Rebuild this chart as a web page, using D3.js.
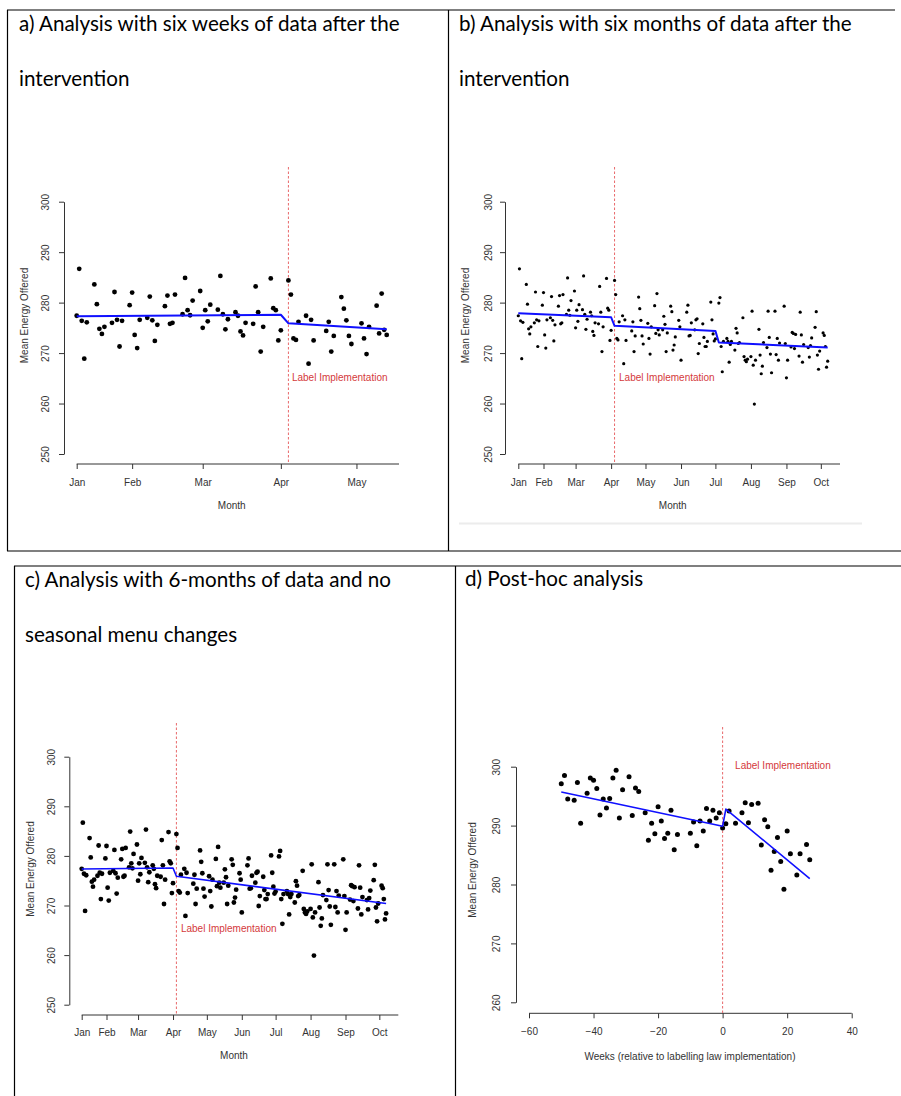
<!DOCTYPE html>
<html>
<head>
<meta charset="utf-8">
<script src="https://cdn.jsdelivr.net/npm/d3@7"></script>
<style>
  body { margin: 0; background: #fff; }
  svg { display: block; }
</style>
</head>
<body>
<svg id="figure"></svg>
<script>
// Daily (weekday) mean energy offered, Jan - Oct 2022
const dayDates = [
  "2022-01-10","2022-01-11","2022-01-12","2022-01-13","2022-01-14",
  "2022-01-17","2022-01-18","2022-01-19","2022-01-20","2022-01-21",
  "2022-01-24","2022-01-25","2022-01-26","2022-01-27","2022-01-28",
  "2022-01-31","2022-02-01","2022-02-02","2022-02-03","2022-02-04",
  "2022-02-07","2022-02-08","2022-02-09","2022-02-10","2022-02-11",
  "2022-02-14","2022-02-15","2022-02-16","2022-02-17","2022-02-18",
  "2022-02-21","2022-02-22","2022-02-23","2022-02-24","2022-02-25",
  "2022-02-28","2022-03-01","2022-03-02","2022-03-03","2022-03-04",
  "2022-03-07","2022-03-08","2022-03-09","2022-03-10","2022-03-11",
  "2022-03-14","2022-03-15","2022-03-16","2022-03-17","2022-03-18",
  "2022-03-21","2022-03-22","2022-03-23","2022-03-24","2022-03-25",
  "2022-03-28","2022-03-29","2022-03-30","2022-03-31","2022-04-01",
  "2022-04-04","2022-04-05","2022-04-06","2022-04-07","2022-04-08",
  "2022-04-11","2022-04-12","2022-04-13","2022-04-14",
  "2022-04-19","2022-04-20","2022-04-21","2022-04-22",
  "2022-04-25","2022-04-26","2022-04-27","2022-04-28","2022-04-29",
  "2022-05-03","2022-05-04","2022-05-05","2022-05-06",
  "2022-05-09","2022-05-10","2022-05-11","2022-05-12","2022-05-13",
  "2022-05-16","2022-05-17","2022-05-18","2022-05-19","2022-05-20",
  "2022-05-23","2022-05-24","2022-05-25","2022-05-26","2022-05-27",
  "2022-05-30","2022-05-31","2022-06-01",
  "2022-06-06","2022-06-07","2022-06-08","2022-06-09","2022-06-10",
  "2022-06-13","2022-06-14","2022-06-15","2022-06-16","2022-06-17",
  "2022-06-20","2022-06-21","2022-06-22","2022-06-23","2022-06-24",
  "2022-06-27","2022-06-28","2022-06-29","2022-06-30","2022-07-01",
  "2022-07-04","2022-07-05","2022-07-06","2022-07-07","2022-07-08",
  "2022-07-11","2022-07-12","2022-07-13","2022-07-14","2022-07-15",
  "2022-07-18","2022-07-19","2022-07-20","2022-07-21","2022-07-22",
  "2022-07-25","2022-07-26","2022-07-27","2022-07-28","2022-07-29",
  "2022-08-01","2022-08-02","2022-08-03","2022-08-04","2022-08-05",
  "2022-08-08","2022-08-09","2022-08-10","2022-08-11","2022-08-12",
  "2022-08-15","2022-08-16","2022-08-17","2022-08-18","2022-08-19",
  "2022-08-22","2022-08-23","2022-08-24","2022-08-25","2022-08-26",
  "2022-08-30","2022-08-31","2022-09-01","2022-09-02",
  "2022-09-05","2022-09-06","2022-09-07","2022-09-08","2022-09-09",
  "2022-09-12","2022-09-13","2022-09-14","2022-09-15","2022-09-16",
  "2022-09-20","2022-09-21","2022-09-22","2022-09-23",
  "2022-09-26","2022-09-27","2022-09-28","2022-09-29","2022-09-30",
  "2022-10-03","2022-10-04","2022-10-05","2022-10-06","2022-10-07"
];
const dayEnergy = [
  277.4, 286.7, 276.4, 268.9, 276.1,
  283.6, 279.7, 274.8, 273.8, 275.2,
  276.0, 282.1, 276.6, 271.3, 276.4,
  279.5, 282.0, 273.6, 271.0, 276.6,
  277.0, 281.2, 276.5, 272.4, 275.6,
  279.3, 281.4, 275.8, 276.0, 281.6,
  277.7, 284.9, 278.5, 277.5, 280.4,
  282.3, 275.0, 278.5, 276.3, 279.6,
  278.6, 285.3, 277.7, 274.7, 276.7,
  278.1, 277.4, 274.3, 273.5, 276.0,
  275.8, 283.2, 278.1, 270.3, 275.2,
  284.8, 278.9, 278.5, 272.5, 274.5,
  284.4, 281.6, 272.9, 272.6, 276.2,
  277.4, 267.9, 276.6, 272.5,
  274.4, 276.2, 270.3, 273.4,
  281.1, 278.8, 276.5, 273.4, 271.8,
  275.9, 272.9, 269.8, 275.2,
  279.4, 273.9, 281.8, 274.6, 273.6,
  274.6, 277.3, 275.7, 270.3, 274.0,
  279.3, 278.2, 270.6, 271.6, 273.2,
  276.5, 275.2, 268.6,
  278.1, 279.5, 273.4, 273.5, 276.0,
  274.6, 276.6, 276.8, 269.9, 271.9,
  275.8, 273.1, 271.3, 271.3, 272.3,
  280.1, 276.6, 273.8, 272.4, 272.8,
  279.9, 281.0, 271.3, 266.3, 272.3,
  272.9, 272.3, 268.2, 271.7, 272.3,
  270.6, 274.9, 274.0, 271.9, 272.1,
  277.0, 269.3, 268.6, 268.3, 268.8,
  269.3, 278.3, 267.6, 259.9, 268.6,
  274.7, 269.6, 265.9, 267.4, 272.1,
  271.1, 278.3, 273.1, 269.8, 266.1,
  278.3, 269.7, 272.9, 268.6, 272.0,
  279.3, 271.9, 265.1, 268.6,
  271.2, 274.1, 273.9, 270.9, 273.7,
  269.4, 278.1, 273.6, 268.2, 271.7,
  271.1, 269.2, 271.5, 273.0,
  275.1, 278.2, 269.6, 266.8, 270.4,
  274.0, 273.5, 271.3, 267.2, 268.4
];
// panel a stops six weeks after the labels
const sixWeekEnd = "2022-05-13";
const labelDate = "2022-04-04";

// fitted segmented regression lines
const fitADates = ["2022-01-10", "2022-04-01", "2022-04-04", "2022-05-13"];
const fitAValues = [277.3, 277.6, 275.9, 274.7];
const fitBDates = ["2022-01-10", "2022-04-01", "2022-04-04", "2022-07-01", "2022-07-04", "2022-10-07"];
const fitBValues = [277.9, 277.1, 275.4, 274.4, 272.1, 271.1];
const fitCDates = ["2022-01-10", "2022-04-01", "2022-04-04", "2022-10-07"];
const fitCValues = [277.35, 277.55, 275.9, 270.4];

// weekly post-hoc data (weeks relative to labelling law)
const weekNumbers = [
  -50, -49, -48, -46, -45, -44, -42, -41, -40, -39, -38, -37, -36, -35, -34, -33,
  -32, -31, -29, -28, -27, -26, -24, -23, -22, -21, -20, -19, -18, -17, -16, -15,
  -14, -10, -9, -8, -7, -6, -5, -4, -3, -2, -1, 0, 1, 2, 4, 6, 7, 8, 9, 11, 12,
  13, 14, 15, 16, 17, 18, 19, 20, 21, 23, 24, 26, 27
];
const weekEnergy = [
  297.1, 298.5, 294.5, 294.3, 297.3, 290.4, 295.5, 298.1, 297.7, 296.3, 291.8, 294.5, 293.0, 294.6, 298.1, 299.4,
  291.3, 296.1, 298.3, 291.7, 296.4, 295.8, 292.2, 287.5, 290.4, 288.6, 293.2, 290.8, 287.8, 288.7, 292.6, 285.9,
  288.5, 288.7, 290.6, 286.6, 290.8, 289.1, 292.9, 290.8, 292.6, 291.3, 292.2, 289.6, 290.3, 292.5, 290.4, 292.2, 293.9, 290.5, 293.6, 293.8, 286.7,
  291.0, 289.8, 282.4, 285.6, 288.0, 283.9, 279.2, 289.1, 285.2, 281.6, 285.2, 286.8, 284.2
];
const fitDWeeks = [-50, 0, 1, 27];
const fitDValues = [295.7, 289.9, 292.8, 281.0];

// axis ticks
const monthTicksA = ["2022-01-10", "2022-02-01", "2022-03-01", "2022-04-01", "2022-05-01"];
const monthLabelsA = ["Jan", "Feb", "Mar", "Apr", "May"];
const monthTicksB = ["2022-01-10", "2022-02-01", "2022-03-01", "2022-04-01", "2022-05-01",
  "2022-06-01", "2022-07-01", "2022-08-01", "2022-09-01", "2022-10-01"];
const monthLabelsB = ["Jan", "Feb", "Mar", "Apr", "May", "Jun", "Jul", "Aug", "Sep", "Oct"];
const energyTicks = [250, 260, 270, 280, 290, 300];
const energyTicksD = [260, 270, 280, 290, 300];
const weekTicks = [-60, -40, -20, 0, 20, 40];

const titles = {
  a: ["a) Analysis with six weeks of data after the", "intervention"],
  b: ["b) Analysis with six months of data after the", "intervention"],
  c: ["c) Analysis with 6-months of data and no", "seasonal menu changes"],
  d: ["d) Post-hoc analysis"]
};

const W = 901, H = 1096;
const plotFont = "'Liberation Sans', Arial, sans-serif";
const plotSize = 10;
const ink = "#333";
const red = "#d4393b";

const parseDay = d3.timeParse("%Y-%m-%d");
const days = dayDates.map((d, i) => ({ x: parseDay(d), y: dayEnergy[i] }));
const weeks = weekNumbers.map((w, i) => ({ x: w, y: weekEnergy[i] }));
const toPts = (xs, ys, f) => xs.map((d, i) => ({ x: f ? f(d) : d, y: ys[i] }));

const svg = d3.select("#figure").attr("width", W).attr("height", H);

/*
 * Draws one R style scatter plot with its fitted line
 */
function drawPanel(p) {
  const g = svg.append("g");
  const x = p.x, y = p.y;

  // x axis
  const xa = g.append("g")
    .attr("transform", `translate(0,${p.axisY})`)
    .call(d3.axisBottom(x).tickValues(p.xTicks).tickFormat((d, i) => p.xLabels[i]).tickSize(5));
  xa.select(".domain").remove();
  xa.append("line")
    .attr("x1", x(p.xTicks[0])).attr("x2", p.axisEnd)
    .attr("stroke", ink);
  xa.selectAll(".tick line").attr("stroke", ink);
  xa.selectAll("text")
    .attr("y", p.tickLabelY - p.axisY).attr("dy", "0.35em")
    .attr("fill", ink);
  xa.attr("font-family", plotFont).attr("font-size", plotSize);

  // y axis
  const ya = g.append("g")
    .attr("transform", `translate(${p.axisX},0)`)
    .call(d3.axisLeft(y).tickValues(p.yTicks).tickSize(5).tickSizeOuter(0));
  ya.select(".domain").attr("stroke", ink);
  ya.selectAll(".tick line").attr("stroke", ink);
  ya.selectAll("text")
    .attr("x", null).attr("dy", "0.35em")
    .attr("text-anchor", "middle")
    .attr("transform", `translate(${p.yLabelX - p.axisX},0) rotate(-90)`)
    .attr("fill", ink);
  ya.attr("font-family", plotFont).attr("font-size", plotSize);

  // axis titles
  g.append("text")
    .attr("x", p.xTitle[0]).attr("y", p.xTitle[1]).attr("dy", "0.35em")
    .attr("text-anchor", "middle")
    .style("font-family", plotFont).style("font-size", plotSize + "px")
    .attr("fill", ink)
    .text(p.xTitleText);
  g.append("text")
    .attr("transform", `translate(${p.yTitle[0]},${p.yTitle[1]}) rotate(-90)`)
    .attr("dy", "0.35em")
    .attr("text-anchor", "middle")
    .style("font-family", plotFont).style("font-size", plotSize + "px")
    .attr("fill", ink)
    .text("Mean Energy Offered");

  // intervention line
  g.append("line")
    .attr("x1", x(p.cut)).attr("x2", x(p.cut))
    .attr("y1", p.plotTop).attr("y2", p.axisY)
    .attr("stroke", "#e8686a").attr("stroke-width", 1)
    .attr("stroke-dasharray", "2.5,2");
  g.append("text")
    .attr("x", x(p.cut) + p.labelDx).attr("y", y(p.labelValue)).attr("dy", "0.35em")
    .style("font-family", plotFont).style("font-size", plotSize + "px")
    .attr("fill", red)
    .text("Label Implementation");

  // points
  g.append("g").selectAll("circle")
    .data(p.points)
    .join("circle")
    .attr("cx", d => x(d.x)).attr("cy", d => y(d.y))
    .attr("r", p.r).attr("fill", "#000");

  // fitted line
  const line = d3.line().x(d => x(d.x)).y(d => y(d.y));
  g.append("path")
    .datum(p.fit)
    .attr("fill", "none").attr("stroke", "#1010ff")
    .attr("stroke-width", p.lw).attr("stroke-linejoin", "round")
    .attr("d", line);
}

const first = parseDay(dayDates[0]);
const last = parseDay(dayDates[dayDates.length - 1]);
const endA = parseDay(sixWeekEnd);

// a) six weeks after
drawPanel({
  x: d3.scaleTime().domain([first, endA]).range([76.7, 386.7]),
  y: d3.scaleLinear().domain([250, 300]).range([454, 201.7]),
  xTicks: monthTicksA.map(parseDay), xLabels: monthLabelsA,
  yTicks: energyTicks,
  axisY: 464, axisX: 64, axisEnd: 399, plotTop: 167,
  tickLabelY: 482.7, yLabelX: 45,
  xTitle: [231.7, 505.7], yTitle: [24, 315.5], xTitleText: "Month",
  cut: parseDay(labelDate), labelDx: 3.5, labelValue: 265.2,
  points: days.filter(d => d.x <= endA),
  fit: toPts(fitADates, fitAValues, parseDay),
  r: 2.4, lw: 2
});

// b) six months after
drawPanel({
  x: d3.scaleTime().domain([first, last]).range([518.3, 827.7]),
  y: d3.scaleLinear().domain([250, 300]).range([454, 201.7]),
  xTicks: monthTicksB.map(parseDay), xLabels: monthLabelsB,
  yTicks: energyTicks,
  axisY: 464, axisX: 505, axisEnd: 840, plotTop: 167,
  tickLabelY: 482.7, yLabelX: 488.3,
  xTitle: [672.7, 505.7], yTitle: [465, 315.5], xTitleText: "Month",
  cut: parseDay(labelDate), labelDx: 4.5, labelValue: 265.2,
  points: days,
  fit: toPts(fitBDates, fitBValues, parseDay),
  r: 1.6, lw: 2
});

// c) six months, no seasonal menu change
drawPanel({
  x: d3.scaleTime().domain([first, last]).range([81.7, 386.1]),
  y: d3.scaleLinear().domain([250, 300]).range([1004.7, 756.7]),
  xTicks: monthTicksB.map(parseDay), xLabels: monthLabelsB,
  yTicks: energyTicks,
  axisY: 1015, axisX: 69.3, axisEnd: 398.3, plotTop: 723,
  tickLabelY: 1032.7, yLabelX: 51.7,
  xTitle: [234, 1055.7], yTitle: [30, 869], xTitleText: "Month",
  cut: parseDay(labelDate), labelDx: 4.5, labelValue: 265.3,
  points: days,
  fit: toPts(fitCDates, fitCValues, parseDay),
  r: 2.4, lw: 1.6
});

// d) post-hoc weekly
drawPanel({
  x: d3.scaleLinear().domain([-60, 40]).range([529, 851.7]),
  y: d3.scaleLinear().domain([260, 300]).range([1002.3, 766.7]),
  xTicks: weekTicks, xLabels: weekTicks.map(d => d3.format("d")(d).replace("-", "\u2212")),
  yTicks: energyTicksD,
  axisY: 1013.3, axisX: 516, axisEnd: 851.7, plotTop: 727,
  tickLabelY: 1031.7, yLabelX: 496.7,
  xTitle: [690, 1056], yTitle: [472.7, 870], xTitleText: "Weeks (relative to labelling law implementation)",
  cut: 0, labelDx: 12.5, labelValue: 300.2,
  points: weeks,
  fit: toPts(fitDWeeks, fitDValues),
  r: 2.5, lw: 1.6
});

// table borders
const borders = svg.append("g").attr("stroke", "#000").attr("stroke-width", 1.2);
[[7, 10, 895, 10], [7.5, 10, 7.5, 551], [448.5, 10, 448.5, 551], [7, 551, 901, 551],
 [14, 566, 901, 566], [14.5, 566, 14.5, 1096], [455.5, 566, 455.5, 1096]]
  .forEach(b => borders.append("line")
    .attr("x1", b[0]).attr("y1", b[1]).attr("x2", b[2]).attr("y2", b[3]));
// faint edge of the pasted image in panel b
svg.append("line").attr("x1", 459).attr("x2", 862).attr("y1", 523.5).attr("y2", 523.5)
  .attr("stroke", "#ececec").attr("stroke-width", 2);

// panel titles (Calibri-like), sized to match the document text width
const titleFont = "Lato, 'Open Sans', sans-serif";
const probe = svg.append("text").style("font-family", titleFont).style("font-size", "20px").text(titles.a[0]);
const titleSize = 20 * 381 / probe.node().getComputedTextLength();
probe.remove();
const titlePos = { a: [19, 31, 86], b: [459, 31, 86], c: [25, 587, 642], d: [465, 586] };
Object.keys(titles).forEach(k => {
  titles[k].forEach((t, i) => {
    svg.append("text")
      .attr("x", titlePos[k][0]).attr("y", titlePos[k][1 + i])
      .style("font-family", titleFont).style("font-size", titleSize + "px")
      .attr("fill", "#000")
      .text(t);
  });
});
</script>
</body>
</html>
